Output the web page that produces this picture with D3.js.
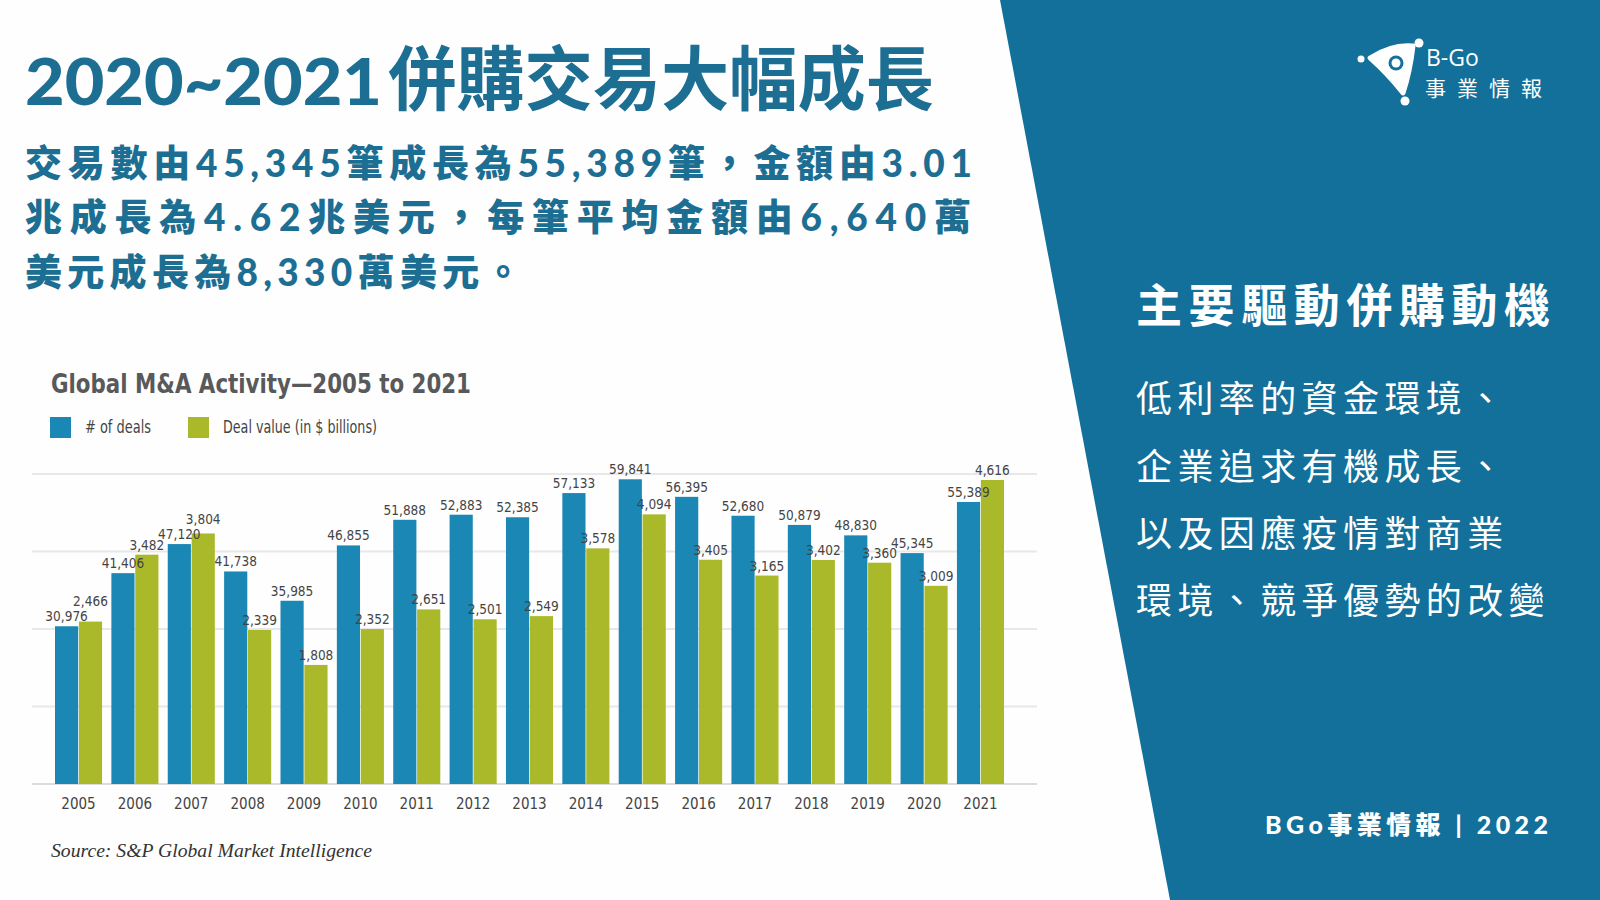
<!DOCTYPE html>
<html>
<head>
<meta charset="utf-8">
<script src="https://cdn.jsdelivr.net/npm/d3@7"></script>
<style>
  html, body { margin: 0; padding: 0; background: #fefefe; }
  svg { display: block; }
</style>
</head>
<body>
<svg id="chart" width="1600" height="900"></svg>
<script>
// ---------------- data ----------------
const years = ["2005","2006","2007","2008","2009","2010","2011","2012","2013","2014","2015","2016","2017","2018","2019","2020","2021"];
const deals = [30976, 41406, 47120, 41738, 35985, 46855, 51888, 52883, 52385, 57133, 59841, 56395, 52680, 50879, 48830, 45345, 55389];
const dealValues = [2466, 3482, 3804, 2339, 1808, 2352, 2651, 2501, 2549, 3578, 4094, 3405, 3165, 3402, 3360, 3009, 4616];
const seriesNames = ["# of deals", "Deal value (in $ billions)"];
const chartTitle = "Global M&A Activity\u20142005 to 2021";
const sourceNote = "Source: S&P Global Market Intelligence";
const headlineNum = "2020~2021";
const headlineCjk = "併購交易大幅成長";
const summaryLines = ["交易數由45,345筆成長為55,389筆，金額由3.01", "兆成長為4.62兆美元，每筆平均金額由6,640萬", "美元成長為8,330萬美元。"];
const driversTitle = "主要驅動併購動機";
const drivers = ["低利率的資金環境、", "企業追求有機成長、", "以及因應疫情對商業", "環境、競爭優勢的改變"];
const footer = "BGo事業情報 | 2022";
const logoLatin = "B-Go";
const logoCjk = "事業情報";

// ---------------- styles ----------------
const C_BLUE = "#1b87b4";
const C_GREEN = "#a9b92a";
const C_PANEL = "#13709a";
const C_HEAD = "#1d6e93";
const NARROW = "'Liberation Sans Narrow','DejaVu Sans Condensed','Arial Narrow',sans-serif";
const CJK = "'Noto Sans CJK TC','Noto Sans CJK SC',sans-serif";

const svg = d3.select("#chart");

// background
svg.append("rect").attr("width",1600).attr("height",900).attr("fill","#fefefe");

// right panel
svg.append("path")
  .attr("d","M1000,0 L1600,0 L1600,900 L1170,900 Z")
  .attr("fill",C_PANEL);

// ---------------- headline ----------------
svg.append("text").attr("x",25).attr("y",105)
  .attr("font-family","Lato,'Noto Sans CJK TC',sans-serif").attr("font-weight",900)
  .attr("font-size",65).attr("fill",C_HEAD)
  .attr("textLength",357).attr("lengthAdjust","spacingAndGlyphs")
  .text(headlineNum);
svg.append("text").attr("x",388).attr("y",105)
  .attr("font-family",CJK).attr("font-weight",700)
  .attr("font-size",70).attr("fill",C_HEAD)
  .attr("textLength",546).attr("lengthAdjust","spacingAndGlyphs")
  .text(headlineCjk);

const sumBase = [177, 231, 285.5];
const sumLen = [947, 946, null];
summaryLines.forEach((s,i) => {
  const t = svg.append("text").attr("x",25).attr("y",sumBase[i])
    .attr("font-family","Lato,'Noto Sans CJK TC',sans-serif").attr("font-weight",900)
    .attr("font-size",37).attr("fill",C_HEAD)
    .text(s);
  if (sumLen[i]) t.attr("textLength",sumLen[i]).attr("lengthAdjust","spacing");
  else t.attr("letter-spacing",5.3);
});

// ---------------- right panel text ----------------
svg.append("text").attr("x",1136).attr("y",321.5)
  .attr("font-family",CJK).attr("font-weight",700).attr("font-size",46)
  .attr("fill","#ffffff").attr("textLength",414).attr("lengthAdjust","spacing")
  .text(driversTitle);

const drvBase = [411.7, 480, 547.3, 613.7];
drivers.forEach((s,i) => {
  svg.append("text").attr("x",1136).attr("y",drvBase[i])
    .attr("font-family",CJK).attr("font-weight",400).attr("font-size",36)
    .attr("letter-spacing",5.4).attr("fill","#ffffff").text(s);
});

svg.append("text").attr("x",1265).attr("y",834)
  .attr("font-family","Lato,'Noto Sans CJK TC',sans-serif").attr("font-weight",900)
  .attr("font-size",25).attr("fill","#ffffff")
  .attr("textLength",283).attr("lengthAdjust","spacing")
  .text(footer);

// logo
const logo = svg.append("g").attr("fill","#ffffff");
logo.append("path").attr("d","M1370,58 Q1392,44 1413,46 Q1410,72 1403,93 Q1388,74 1370,58 Z")
  .attr("stroke","#ffffff").attr("stroke-width",5).attr("stroke-linejoin","round");
logo.append("circle").attr("cx",1396).attr("cy",63).attr("r",7.5).attr("fill",C_PANEL);
logo.append("circle").attr("cx",1396).attr("cy",63).attr("r",4.5).attr("fill","#ffffff");
logo.append("circle").attr("cx",1361).attr("cy",59).attr("r",3.5);
logo.append("circle").attr("cx",1419).attr("cy",43).attr("r",4.5);
logo.append("circle").attr("cx",1405).attr("cy",101).attr("r",4.5);
svg.append("text").attr("x",1426).attr("y",66)
  .attr("font-family","'Open Sans',sans-serif").attr("font-size",23).attr("fill","#ffffff")
  .text(logoLatin);
svg.append("text").attr("x",1425).attr("y",96)
  .attr("font-family",CJK).attr("font-size",21).attr("fill","#ffffff")
  .attr("letter-spacing",11).text(logoCjk);

// ---------------- chart ----------------
const x0 = d3.scaleBand().domain(years).range([55,1004]).paddingInner(0.165).paddingOuter(0);
const x1 = d3.scaleBand().domain(seriesNames).range([0,x0.bandwidth()]).paddingInner(0.03);
const yDeals = d3.scaleLinear().domain([0,60880]).range([784,474]);
const yValue = d3.scaleLinear().domain([0,4707]).range([784,474]);

// title + legend
svg.append("text").attr("x",51).attr("y",393)
  .attr("font-family",NARROW).attr("font-weight",700).attr("font-size",26)
  .attr("fill","#58595b").attr("textLength",420).attr("lengthAdjust","spacingAndGlyphs")
  .text(chartTitle);

const legendX = [50, 188];
const legendColors = [C_BLUE, C_GREEN];
const legendLen = [66, 154];
seriesNames.forEach((n,i) => {
  svg.append("rect").attr("x",legendX[i]).attr("y",417).attr("width",21).attr("height",21)
    .attr("fill",legendColors[i]);
  svg.append("text").attr("x",legendX[i]+35).attr("y",433)
    .attr("font-family",NARROW).attr("font-size",17.5).attr("fill","#444")
    .attr("textLength",legendLen[i]).attr("lengthAdjust","spacingAndGlyphs")
    .text(n);
});

// gridlines
const gridVals = d3.range(0,5).map(i => 60880*i/4);
svg.append("g").selectAll("line").data(gridVals).join("line")
  .attr("x1",32).attr("x2",1037)
  .attr("y1",d => yDeals(d)).attr("y2",d => yDeals(d))
  .attr("stroke",d => d===0 ? "#dcdcdc" : "#e8e8e8").attr("stroke-width",2);

// bars
const rows = years.map((y,i) => ({year:y, deals:deals[i], value:dealValues[i]}));
const groups = svg.append("g").selectAll("g").data(rows).join("g")
  .attr("transform",d => `translate(${x0(d.year)},0)`);
groups.append("rect")
  .attr("x",x1(seriesNames[0])).attr("width",x1.bandwidth())
  .attr("y",d => yDeals(d.deals)).attr("height",d => yDeals(0)-yDeals(d.deals))
  .attr("fill",C_BLUE);
groups.append("rect")
  .attr("x",x1(seriesNames[1])).attr("width",x1.bandwidth())
  .attr("y",d => yValue(d.value)).attr("height",d => yValue(0)-yValue(d.value))
  .attr("fill",C_GREEN);

// value labels (with simple collision avoidance)
const fmt = d3.format(",");
groups.each(function(d){
  const g = d3.select(this);
  const by = yDeals(d.deals) - 5;
  let gy = yValue(d.value) - 5;
  if (gy > by - 15 && gy < by + 14) gy = by - 15; // raise green label above blue one when they collide
  g.append("text").attr("x",x1(seriesNames[0]) + x1.bandwidth()/2).attr("y",by)
    .attr("text-anchor","middle").attr("font-family",NARROW).attr("font-size",13.5)
    .attr("fill","#444").text(fmt(d.deals));
  g.append("text").attr("x",x1(seriesNames[1]) + x1.bandwidth()/2).attr("y",gy)
    .attr("text-anchor","middle").attr("font-family",NARROW).attr("font-size",13.5)
    .attr("fill","#444").text(fmt(d.value));
});

// x axis labels
const xAxis = d3.axisBottom(x0).tickSize(0).tickPadding(14);
const ax = svg.append("g").attr("transform","translate(0,784)").call(xAxis);
ax.select(".domain").remove();
ax.selectAll("text").attr("font-family",NARROW).attr("font-size",15).attr("fill","#444");

// source
svg.append("text").attr("x",51).attr("y",857)
  .attr("font-family","'Liberation Serif','DejaVu Serif',serif").attr("font-style","italic")
  .attr("font-size",18.5).attr("fill","#333")
  .attr("textLength",321).attr("lengthAdjust","spacingAndGlyphs")
  .text(sourceNote);
</script>
</body>
</html>
